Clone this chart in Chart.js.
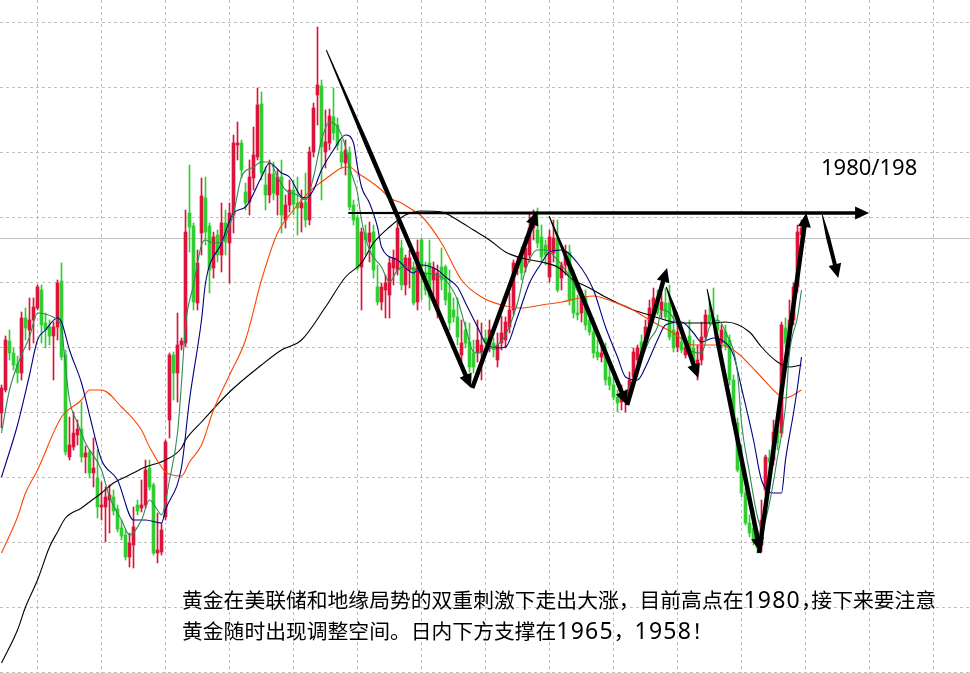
<!DOCTYPE html>
<html>
<head>
<meta charset="utf-8">
<script src="https://cdn.jsdelivr.net/npm/chart.js@4/dist/chart.umd.min.js"></script>
<style>
html,body{margin:0;padding:0;background:#fff;overflow:hidden}
#wrap{position:relative;width:970px;height:673px}
canvas{display:block}
.note{position:absolute;font-family:"Noto Sans CJK SC","Noto Sans",sans-serif;color:#000;white-space:nowrap}
.d{font-family:"Noto Sans",sans-serif;font-size:23px;letter-spacing:1.2px}
.h{font-feature-settings:"halt" 1}
</style>
</head>
<body>
<div id="wrap">
<canvas id="c" width="970" height="673"></canvas>
<div class="note" id="lvl" style="left:821px;top:153px;font-family:'Noto Sans',sans-serif;font-size:22px;line-height:26px">1980/198</div>
<div class="note" id="txt" style="left:182px;top:584px;font-size:20.8px;line-height:31px">黄金在美联储和地缘局势的双重刺激下走出大涨，目前高点在<span class="d">1980</span><span class="h">，</span>接下来要注意<br>黄金随时出现调整空间。日内下方支撑在<span class="d">1965</span>，<span class="d">1958</span><span class="h">！</span></div>
</div>
<script>
// ---- candle data (index 0..200) ----
const open = [1880,1891.5,1916,1910,1904.5,1900,1927.5,1921.5,1926.5,1932.5,
1941.5,1925,1923,1918.5,1923,1946,1909,1858,1863,1869,
1872,1858,1860.5,1850,1847.5,1833,1833,1836.5,1838,1832,
1822.5,1819,1808,1814,1834,1832.5,1834,1852.5,1844,1810,
1810.5,1828,1876.5,1909,1900,1914,1915,1980,1973.5,1935,
1970,1987.5,1973.5,1952.5,1969,1959,1975,1965,1979,2014,
2015,1990.5,1985.5,1997.5,2008,2034.5,1994,1989,1999.5,1989,
1998,1976.5,1984,1991.5,1985,1982.5,1985.5,1976.5,2010.5,2039,
2043.5,2010.5,2015,2028,2024,2010.5,2005,2010.5,1984,1977.5,
1953,1970,1965.5,1970.5,1943,1935.5,1941.5,1939,1952.5,1951.5,
1962.5,1944,1951.5,1953,1935.5,1966.5,1950,1955,1946.5,1931.5,
1953,1953,1940,1931.5,1928,1909,1921.5,1915.5,1910,1910,
1910.5,1917.5,1914,1915,1906.5,1915,1916.5,1923,1931.5,1952.5,
1960,1953,1959,1972.5,1971.5,1968,1964,1948,1960,1967.5,
1947.5,1954,1960.5,1946.5,1930,1930,1938,1926.5,1920.5,1910.5,
1908,1908,1898,1894,1888,1885.5,1886.5,1890,1898,1906.5,
1915.5,1916.5,1924,1930.5,1935,1931.5,1935,1935,1921.5,1913,
1915.5,1909,1918.5,1912.5,1900,1906.5,1918,1929,1927.5,1925.5,
1915,1920.5,1916.5,1896.5,1875,1854,1840,1825,1822.5,1816.5,
1814,1841.5,1857.5,1856.5,1871.5,1870,1922.5,1920,1926.5,1943,
1969];
const close = [1892.5,1916.5,1910,1904,1900,1927.5,1922.5,1926.5,1933,1943,
1924,1921.5,1918.5,1923,1945,1908,1860.5,1864,1870,1872,
1858,1860,1850,1852.5,1833,1834,1838,1839,1831,1822,
1818.5,1808,1815,1823,1831,1834,1851.5,1843,1810,1811.5,
1821.5,1865.5,1909,1900,1914,1916,1970.5,1973,1935.5,1955,
1988.5,1970.5,1951.5,1968,1959,1975,1965.5,1980,2015,2015,
2001.5,1985,1998,2009,2034,2000,1989,1999.5,1990,1998,
1979,1984,1991.5,1984.5,1982.5,1985,1976.5,2010.5,2032.5,2044,
2013,2015.5,2028.5,2020,2014,2005.5,2011.5,1983,1976.5,1952.5,
1970.5,1966.5,1970,1951.5,1935.5,1943,1945,1955,1957.5,1972.5,
1944,1957.5,1957.5,1935,1960.5,1953,1941.5,1938,1952.5,1950,
1946.5,1936.5,1925,1928,1918,1915,1915,1903,1903,1916.5,
1914,1915,1921.5,1911.5,1914,1920,1925.5,1931.5,1955,1955.5,
1950,1962.5,1972.5,1976.5,1965,1958,1959,1968,1967.5,1941.5,
1954,1960.5,1936.5,1930,1929,1938,1924,1920.5,1910,1908,
1910,1896.5,1894,1888,1885,1890.5,1890,1896.5,1910.5,1912.5,
1910.5,1923,1932.5,1937.5,1930,1935.5,1928,1918,1912.5,1920.5,
1911.5,1913,1910.5,1905.5,1906.5,1918,1929,1925.5,1925.5,1921.5,
1921.5,1913,1896.5,1875,1851.5,1840,1825,1820,1816.5,1812.5,
1826.5,1858,1855.5,1870.5,1865,1924,1915,1926.5,1943,1970.5,
1972.5];
const high = [1894,1918.5,1921.5,1912.5,1908.5,1930.5,1932.5,1937.5,1937.5,1944,
1944,1930,1926.5,1925.5,1946.5,1955,1911.5,1878,1880.5,1876.5,
1885.5,1863.5,1861.5,1867.5,1861.5,1845.5,1843,1844,1841.5,1834,
1826.5,1821.5,1820,1833,1836.5,1846.5,1856.5,1856.5,1845,1830,
1825,1866.5,1910,1910.5,1930,1917.5,1981.5,2004,1975,1961.5,
1997.5,1998,1975,1970.5,1971.5,1985,1981.5,1985,2019,2025.5,
2016.5,1995,2006.5,2023,2042.5,2040.5,2003,2006.5,2005.5,2001.5,
2006.5,1989,1996.5,1996.5,1998,1991.5,2000,2013,2035,2073,
2046.5,2031.5,2032,2042.5,2027.5,2016.5,2016.5,2013,1986.5,1979,
1972.5,1974,1975.5,1974,1954,1945,1949,1958,1961.5,1975.5,
1966.5,1959,1961.5,1955.5,1966.5,1967.5,1955.5,1966.5,1955.5,1954,
1962.5,1954,1951.5,1937.5,1937.5,1926.5,1925.5,1925,1916.5,1926.5,
1925,1921.5,1926.5,1917.5,1920,1928.5,1928,1940,1956.5,1958,
1963,1968,1980,1981.5,1982.5,1974,1966.5,1971.5,1976.5,1976.5,
1955.5,1964,1964,1951.5,1939,1941.5,1941.5,1930.5,1927.5,1916.5,
1914,1915,1904,1899,1891.5,1894,1891.5,1900.5,1912.5,1914,
1919,1926.5,1936.5,1942.5,1941.5,1940,1942.5,1944,1931.5,1926.5,
1921.5,1916.5,1926.5,1916.5,1914,1925.5,1931.5,1936.5,1942.5,1929,
1924,1924,1919,1899,1877.5,1864,1842.5,1829,1831.5,1821.5,
1836.5,1859,1861.5,1876.5,1879,1925.5,1927.5,1936.5,1945,1974,
1976.5];
const low = [1872.5,1890.5,1906.5,1901.5,1895,1896.5,1916.5,1911.5,1915,1931.5,
1915,1912.5,1914,1896.5,1916.5,1906.5,1859,1856.5,1861.5,1864,
1855.5,1850,1847.5,1843,1827.5,1826.5,1815.5,1820,1829,1820.5,
1816.5,1806.5,1803,1802.5,1829,1830.5,1832.5,1841.5,1809,1805,
1809,1826.5,1867.5,1886.5,1885.5,1911.5,1913,1960.5,1931.5,1931.5,
1959,1964,1940,1947.5,1955.5,1950.5,1959,1945,1970,2006.5,
1997.5,1981.5,1979,1991.5,2006.5,1996.5,1981.5,1985,1986.5,1979,
1970,1972.5,1980.5,1979,1969,1970.5,1973,1974,2008,2024,
1986.5,2002.5,2011.5,2016.5,2011.5,2002.5,1999,1981.5,1974,1951.5,
1931.5,1959,1955.5,1947.5,1934,1931.5,1927.5,1927.5,1944,1949,
1941.5,1939,1942.5,1934,1931.5,1936.5,1939,1931.5,1936.5,1927.5,
1941.5,1934,1921.5,1925.5,1914,1905.5,1912.5,1900.5,1900,1905.5,
1896.5,1911.5,1910.5,1908,1903,1911.5,1912.5,1920,1929,1949,
1946.5,1950.5,1955.5,1966.5,1962.5,1955.5,1954,1945.5,1955.5,1940.5,
1941.5,1949,1934,1927.5,1926.5,1925.5,1921.5,1919,1907.5,1906.5,
1905.5,1894,1891.5,1886.5,1880.5,1881.5,1880.5,1888,1894,1904,
1909,1914,1921.5,1927.5,1929,1927.5,1926.5,1916.5,1910.5,1910.5,
1910,1907.5,1908.5,1904,1896.5,1904,1916.5,1924,1924,1919,
1912.5,1911.5,1894,1874,1850.5,1838,1824,1818,1814,1810,
1810.5,1839,1851.5,1854,1861.5,1868,1912.5,1917.5,1924,1940.5,
1966.5];

// ---- moving averages (candle index, price) ----
const ma5Idx = [0,2,5,7,9,11,14,15,16,17,19,21,25,27,30,32,35,37,39,40,42,44,45,46,48,50,51,53,55,58,60,63,65,67,69,71,74,76,78,80,82,84,86,87,89,90,92,95,97,99,101,104,106,109,111,114,116,118,120,121,124,126,129,131,134,136,139,143,145,148,150,153,155,157,160,162,164,165,167,170,172,175,177,179,181,184,185,187,189,190,192,194,196,197,199,200];
const ma5Val = [1870,1891.5,1909,1918,1930,1929.5,1926.5,1923,1903,1886.5,1875,1865,1851.5,1838,1826.5,1819,1826.5,1836.5,1831.5,1829,1846.5,1870,1895,1924,1944,1964,1966.5,1965,1965.5,1980,1998,2003,2005.5,2005.5,1998,1991.5,1989,1986.5,1998,2016.5,2025.5,2023,2013,2003,1990,1976.5,1961.5,1953,1945.5,1951.5,1953,1951.5,1950,1949,1946.5,1936.5,1923,1910.5,1910,1911.5,1914,1919,1935,1951.5,1961.5,1961.5,1956.5,1945,1936.5,1925,1913,1900,1890,1893,1906.5,1916.5,1923,1931.5,1930,1920,1911.5,1910,1923,1926.5,1920.5,1900,1875,1850,1828,1822.5,1835,1858,1883,1910,1928,1941.5];
const ma10Idx = [0,4,7,9,11,14,15,17,20,22,25,29,33,36,40,41,45,47,50,51,55,58,61,65,67,70,72,75,76,78,80,83,86,88,89,90,92,94,95,99,103,105,109,111,114,116,119,121,124,126,129,132,135,137,140,144,148,151,154,156,159,161,164,166,170,173,175,178,180,183,185,188,190,193,195,196,198,199,200];
const ma10Val = [1848,1874,1899,1916.5,1921.5,1927.5,1925.5,1911.5,1895,1879,1856.5,1846.5,1826.5,1826.5,1825,1831.5,1853,1886.5,1926.5,1945,1965,1980,1983,1998,2005,2000,1998,1988,1987.5,1991.5,2001.5,2011.5,2019,2015,2003,1993,1985,1973,1963,1956.5,1950,1954,1951.5,1948,1943,1935,1923,1915,1912.5,1913,1928,1945,1955,1960.5,1961.5,1955,1941.5,1923,1908,1898,1896.5,1903,1916.5,1924,1925.5,1920,1915.5,1917.5,1916.5,1909,1892.5,1866.5,1846.5,1840,1840,1856.5,1880,1893,1908];
const ma30Idx = [0,4,6,9,15,20,22,25,30,35,37,40,41,45,47,50,53,57,61,65,69,73,75,78,80,83,85,87,89,91,95,97,100,102,105,110,115,120,125,130,135,140,148,153,157,162,168,173,180,184,189,195,196,200];
const ma30Val = [1810,1828,1840,1851.5,1878,1886.5,1891.5,1891.5,1883,1871.5,1863,1853,1850.5,1848.5,1855.5,1864,1881.5,1899,1916.5,1946.5,1970,1981.5,1986.5,1992.5,1995.5,2000,2002.5,2003,2000,1997.5,1991.5,1987.5,1985,1982.5,1978.5,1965,1946.5,1938,1934,1932.5,1934,1935.5,1938.5,1935.5,1932.5,1926.5,1920,1914,1914,1910,1900,1888,1887.5,1891.5];
const ma60Idx = [0,4,6,9,12,14,16,20,22,25,28,31,36,41,45,46,50,57,65,70,75,81,86,90,93,97,101,105,110,114,118,122,126,130,135,139,143,147,151,158,162,170,178,181,187,190,194,197,200];
const ma60Val = [1755,1771.5,1783,1796.5,1813,1820.5,1827.5,1832.5,1835.5,1840,1845,1848,1853,1856.5,1862.5,1866.5,1875.5,1890.5,1904,1911.5,1916.5,1933,1948,1955,1965,1973,1979,1981,1980.5,1976.5,1971.5,1966.5,1960.5,1957.5,1955.5,1953,1946.5,1942.5,1938,1931.5,1929,1925,1925,1925.5,1920.5,1913,1905.5,1903,1904];

// ---- grid positions (axis ticks, labels hidden) ----
const gridX = [9,25,41,57,73,89,105,121,137,153,169,185,201,217,233];
const gridY = [2075.25,2042.75,2010.25,1977.75,1945.25,1912.75,1880.25,1847.75,1815.25,1782.75,1750.25];
const priceLine = 1967.5;

// ---- hand-drawn trend arrows (candle index, price) ----
const arrowFrom = [[81.2,2061.5],[86.7,1980],[117.7,1892.5],[136.9,1978.5],[156.4,1884],[166.2,1943],[176.4,1942],[189.4,1810],[205.2,1979]];
const arrowTo   = [[117.4,1892.5],[216.9,1980],[133.9,1981],[156.4,1884],[166.4,1952.5],[174.2,1897.5],[189.7,1810.5],[201.2,1980],[209.2,1947.5]];
const arrowTaper = [0.28,0.5,0,0.28,0,0.3,0.2,0,0.35];
const arrowStartW = [1,2,4,1,4,1,1,4,1];
const arrowW = [4.5,3.5,4.5,4.5,4.5,4.5,4.5,4.5,4];

const RED = '#DC143C', GREEN = '#32CD32';
const idx = open.map((_, i) => i);
const colors = idx.map(i => close[i] >= open[i] ? RED : GREEN);

function maSet(ix, vals, color) {
  return {type:'line', data: ix.map((x,k)=>({x:x, y:vals[k]})), borderColor: color, borderWidth: 1.1,
    pointRadius: 0, cubicInterpolationMode: 'monotone', fill: false, order: 1};
}

const overlay = {
  id: 'overlay',
  beforeDatasetsDraw(chart) {
    const {ctx, chartArea, scales:{y}} = chart;
    const py = Math.round(y.getPixelForValue(priceLine)) + 0.5;
    ctx.save();
    ctx.strokeStyle = '#c0c0c0'; ctx.lineWidth = 1;
    ctx.beginPath(); ctx.moveTo(chartArea.left, py); ctx.lineTo(chartArea.right, py); ctx.stroke();
    ctx.restore();
  },
  afterDatasetsDraw(chart) {
    const {ctx, scales:{x, y}} = chart;
    ctx.save();
    ctx.fillStyle = '#000';
    arrowFrom.forEach((f, k) => {
      const t = arrowTo[k];
      const x0 = x.getPixelForValue(f[0]), y0 = y.getPixelForValue(f[1]);
      const x1 = x.getPixelForValue(t[0]), y1 = y.getPixelForValue(t[1]);
      const dx = x1-x0, dy = y1-y0, len = Math.hypot(dx, dy);
      const ux = dx/len, uy = dy/len, nx = -uy, ny = ux;
      const head = 14, hw = 6.5, w0 = arrowStartW[k], w1 = arrowW[k];
      const bx = x1-ux*head, by = y1-uy*head;
      const mx = x0+dx*arrowTaper[k], my = y0+dy*arrowTaper[k];
      ctx.beginPath();
      ctx.moveTo(x0+nx*w0/2, y0+ny*w0/2);
      ctx.lineTo(mx+nx*w1/2, my+ny*w1/2);
      ctx.lineTo(bx+nx*w1/2, by+ny*w1/2);
      ctx.lineTo(bx+nx*hw, by+ny*hw);
      ctx.lineTo(x1, y1);
      ctx.lineTo(bx-nx*hw, by-ny*hw);
      ctx.lineTo(bx-nx*w1/2, by-ny*w1/2);
      ctx.lineTo(mx-nx*w1/2, my-ny*w1/2);
      ctx.lineTo(x0-nx*w0/2, y0-ny*w0/2);
      ctx.closePath();
      ctx.fill();
    });
    ctx.restore();
  }
};

new Chart(document.getElementById('c'), {
  type: 'bar',
  data: {
    datasets: [
      maSet(ma5Idx, ma5Val, '#2E8B57'),
      maSet(ma10Idx, ma10Val, '#000080'),
      maSet(ma30Idx, ma30Val, '#FF4500'),
      maSet(ma60Idx, ma60Val, '#000000'),
      {type:'bar', data: idx.map(i=>({x:i, y:[open[i], close[i]]})), backgroundColor: colors,
        barThickness: 3, grouped: false, borderWidth: 0, order: 2},
      {type:'bar', data: idx.map(i=>({x:i, y:[low[i], high[i]]})), backgroundColor: colors,
        barThickness: 1, grouped: false, borderWidth: 0, order: 3}
    ]
  },
  options: {
    responsive: false, maintainAspectRatio: false, animation: false, events: [],
    layout: {padding: 0},
    plugins: {legend: {display: false}, tooltip: {enabled: false}},
    scales: {
      x: {type: 'linear', min: -0.375, max: 242.125, offset: false,
        grid: {color: '#c0c0c0', lineWidth: 1, drawTicks: false, offset: false},
        border: {display: false, dash: [3,3]},
        ticks: {display: false},
        afterBuildTicks: s => { s.ticks = gridX.map(v => ({value: v})); }},
      y: {type: 'linear', min: 1750, max: 2086.5, beginAtZero: false,
        grid: {color: '#c0c0c0', lineWidth: 1, drawTicks: false},
        border: {display: false, dash: [3,3]},
        ticks: {display: false},
        afterBuildTicks: s => { s.ticks = gridY.map(v => ({value: v})); }}
    }
  },
  plugins: [overlay]
});
</script>
</body>
</html>
